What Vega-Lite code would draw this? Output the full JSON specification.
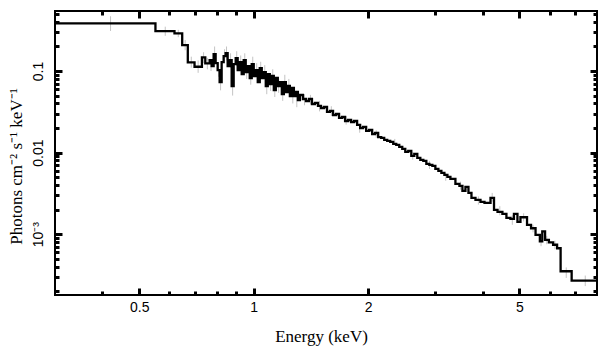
{
  "$schema": "https://vega.github.io/schema/vega-lite/v6.json",
  "width": 542,
  "height": 284,
  "autosize": {"type": "none"},
  "padding": {"left": 55, "top": 11, "right": 12, "bottom": 62},
  "background": "white",
  "config": {
    "view": {"stroke": "#000", "strokeWidth": 2},
    "axis": {"grid": false, "domain": false, "ticks": true, "tickOpacity": 1, "tickColor": "black", "tickWidth": 3, "labelColor": "#000", "labelFont": "Liberation Sans", "labelFontSize": 14, "titleFont": "Liberation Serif", "titleFontWeight": "normal", "titleFontSize": 17, "titleColor": "#000"}
  },
  "datasets": {
    "spec": [
      {"e": 0.3, "f": 0.3838}, {"e": 0.5513, "f": 0.309}, {"e": 0.6187, "f": 0.2894}, {"e": 0.6483, "f": 0.2082},
      {"e": 0.6707, "f": 0.1278}, {"e": 0.6986, "f": 0.1129}, {"e": 0.7306, "f": 0.1472}, {"e": 0.7456, "f": 0.1243},
      {"e": 0.7655, "f": 0.1364}, {"e": 0.7749, "f": 0.1151}, {"e": 0.7843, "f": 0.1615}, {"e": 0.7939, "f": 0.1253},
      {"e": 0.8036, "f": 0.1028}, {"e": 0.8133, "f": 0.0733}, {"e": 0.8233, "f": 0.1289}, {"e": 0.8333, "f": 0.1527},
      {"e": 0.8435, "f": 0.1661}, {"e": 0.8538, "f": 0.1151}, {"e": 0.8642, "f": 0.1364}, {"e": 0.8748, "f": 0.0655},
      {"e": 0.8855, "f": 0.1218}, {"e": 0.8964, "f": 0.1443}, {"e": 0.9073, "f": 0.1028}, {"e": 0.9184, "f": 0.1289},
      {"e": 0.9297, "f": 0.0919}, {"e": 0.941, "f": 0.1364}, {"e": 0.9526, "f": 0.0972}, {"e": 0.9642, "f": 0.1151},
      {"e": 0.976, "f": 0.0821}, {"e": 0.9879, "f": 0.1218}, {"e": 1.0, "f": 0.0869}, {"e": 1.0122, "f": 0.1028},
      {"e": 1.0246, "f": 0.0733}, {"e": 1.0371, "f": 0.1088}, {"e": 1.0498, "f": 0.0821}, {"e": 1.0627, "f": 0.0972},
      {"e": 1.0756, "f": 0.0655}, {"e": 1.0888, "f": 0.0919}, {"e": 1.1021, "f": 0.0693}, {"e": 1.1155, "f": 0.0869},
      {"e": 1.1292, "f": 0.0585}, {"e": 1.143, "f": 0.0821}, {"e": 1.157, "f": 0.0655}, {"e": 1.1711, "f": 0.0733},
      {"e": 1.1855, "f": 0.0523}, {"e": 1.2, "f": 0.0733}, {"e": 1.2147, "f": 0.0553}, {"e": 1.2296, "f": 0.0655},
      {"e": 1.2446, "f": 0.0494}, {"e": 1.2598, "f": 0.0619}, {"e": 1.2753, "f": 0.0494}, {"e": 1.2909, "f": 0.0553},
      {"e": 1.3066, "f": 0.0441}, {"e": 1.3227, "f": 0.0508}, {"e": 1.3471, "f": 0.0454}, {"e": 1.3719, "f": 0.0429},
      {"e": 1.3972, "f": 0.0454}, {"e": 1.4229, "f": 0.0394}, {"e": 1.4491, "f": 0.0406},
      {"e": 1.4757, "f": 0.0373}, {"e": 1.5029, "f": 0.0352}, {"e": 1.5306, "f": 0.0362}, {"e": 1.5588, "f": 0.0315},
      {"e": 1.5875, "f": 0.0324}, {"e": 1.6167, "f": 0.0289}, {"e": 1.6464, "f": 0.0297}, {"e": 1.6767, "f": 0.0266},
      {"e": 1.7076, "f": 0.0273}, {"e": 1.739, "f": 0.0244}, {"e": 1.771, "f": 0.0251}, {"e": 1.8036, "f": 0.0237},
      {"e": 1.8367, "f": 0.0244}, {"e": 1.8705, "f": 0.0218}, {"e": 1.905, "f": 0.02}, {"e": 1.94, "f": 0.0206},
      {"e": 1.9757, "f": 0.0184}, {"e": 2.0121, "f": 0.0189}, {"e": 2.0491, "f": 0.0169}, {"e": 2.0868, "f": 0.0174},
      {"e": 2.1252, "f": 0.0155}, {"e": 2.1643, "f": 0.0151}, {"e": 2.2041, "f": 0.0143}, {"e": 2.2447, "f": 0.0139},
      {"e": 2.286, "f": 0.0135}, {"e": 2.328, "f": 0.01276}, {"e": 2.3709, "f": 0.0124}, {"e": 2.4145, "f": 0.01173},
      {"e": 2.4589, "f": 0.01108}, {"e": 2.5041, "f": 0.01018}, {"e": 2.5502, "f": 0.01047}, {"e": 2.5971, "f": 0.0091},
      {"e": 2.6449, "f": 0.00963}, {"e": 2.6935, "f": 0.0086}, {"e": 2.7431, "f": 0.00813}, {"e": 2.7936, "f": 0.0079},
      {"e": 2.845, "f": 0.00726}, {"e": 2.8973, "f": 0.00706}, {"e": 2.9506, "f": 0.00686}, {"e": 3.0049, "f": 0.0063},
      {"e": 3.0602, "f": 0.00596}, {"e": 3.1165, "f": 0.00563}, {"e": 3.1738, "f": 0.00532}, {"e": 3.2322, "f": 0.00503},
      {"e": 3.2917, "f": 0.00476}, {"e": 3.393, "f": 0.00413}, {"e": 3.4765, "f": 0.0039}, {"e": 3.5404, "f": 0.00339},
      {"e": 3.6056, "f": 0.0038}, {"e": 3.6719, "f": 0.0032}, {"e": 3.7395, "f": 0.00278}, {"e": 3.8313, "f": 0.00263},
      {"e": 3.9496, "f": 0.00249}, {"e": 4.0466, "f": 0.00242}, {"e": 4.1968, "f": 0.00278}, {"e": 4.287, "f": 0.00198},
      {"e": 4.379, "f": 0.00187}, {"e": 4.5103, "f": 0.00177}, {"e": 4.6214, "f": 0.00158}, {"e": 4.735, "f": 0.00154},
      {"e": 4.8369, "f": 0.00177}, {"e": 4.9408, "f": 0.00141}, {"e": 5.0316, "f": 0.00161}, {"e": 5.236, "f": 0.0013},
      {"e": 5.3647, "f": 0.00118}, {"e": 5.5133, "f": 0.00098}, {"e": 5.6592, "f": 0.000816}, {"e": 5.7423, "f": 0.00108},
      {"e": 5.8409, "f": 0.000851}, {"e": 5.9773, "f": 0.000793}, {"e": 6.1316, "f": 0.00074}, {"e": 6.2822, "f": 0.00067},
      {"e": 6.4172, "f": 0.00035}, {"e": 6.8612, "f": 0.000268}, {"e": 8.0, "f": 0.000268}
    ],
    "err": [
      {"e": 0.42, "lo": 0.31, "hi": 0.47}, {"e": 0.585, "lo": 0.27, "hi": 0.35}, {"e": 0.633, "lo": 0.26, "hi": 0.32},
      {"e": 0.66, "lo": 0.18, "hi": 0.24}, {"e": 0.685, "lo": 0.11, "hi": 0.15}, {"e": 0.714, "lo": 0.095, "hi": 0.135},
      {"e": 0.738, "lo": 0.125, "hi": 0.17}, {"e": 0.755, "lo": 0.105, "hi": 0.145}, {"e": 0.772, "lo": 0.1, "hi": 0.14},
      {"e": 0.789, "lo": 0.13, "hi": 0.2}, {"e": 0.808, "lo": 0.085, "hi": 0.125}, {"e": 0.818, "lo": 0.058, "hi": 0.095},
      {"e": 0.838, "lo": 0.125, "hi": 0.185}, {"e": 0.848, "lo": 0.135, "hi": 0.2}, {"e": 0.869, "lo": 0.11, "hi": 0.165},
      {"e": 0.88, "lo": 0.05, "hi": 0.085}, {"e": 0.902, "lo": 0.115, "hi": 0.175}, {"e": 0.924, "lo": 0.105, "hi": 0.155},
      {"e": 0.947, "lo": 0.11, "hi": 0.165}, {"e": 0.958, "lo": 0.08, "hi": 0.118}, {"e": 0.982, "lo": 0.068, "hi": 0.1},
      {"e": 0.994, "lo": 0.1, "hi": 0.15}, {"e": 1.018, "lo": 0.085, "hi": 0.125}, {"e": 1.043, "lo": 0.09, "hi": 0.13},
      {"e": 1.069, "lo": 0.08, "hi": 0.118}, {"e": 1.082, "lo": 0.052, "hi": 0.082}, {"e": 1.108, "lo": 0.057, "hi": 0.085},
      {"e": 1.122, "lo": 0.072, "hi": 0.105}, {"e": 1.136, "lo": 0.048, "hi": 0.072}, {"e": 1.163, "lo": 0.054, "hi": 0.08},
      {"e": 1.192, "lo": 0.043, "hi": 0.065}, {"e": 1.207, "lo": 0.06, "hi": 0.09}, {"e": 1.237, "lo": 0.054, "hi": 0.08},
      {"e": 1.267, "lo": 0.04, "hi": 0.06}, {"e": 1.298, "lo": 0.036, "hi": 0.053}, {"e": 1.36, "lo": 0.038, "hi": 0.052},
      {"e": 1.41, "lo": 0.039, "hi": 0.051}, {"e": 1.49, "lo": 0.032, "hi": 0.043}, {"e": 1.6, "lo": 0.028, "hi": 0.037},
      {"e": 1.75, "lo": 0.022, "hi": 0.028}, {"e": 1.9, "lo": 0.0175, "hi": 0.0225}, {"e": 2.1, "lo": 0.0152, "hi": 0.0188},
      {"e": 2.35, "lo": 0.0123, "hi": 0.0147}, {"e": 2.62, "lo": 0.0082, "hi": 0.0101}, {"e": 2.9, "lo": 0.0063, "hi": 0.0079},
      {"e": 3.2, "lo": 0.0045, "hi": 0.0056}, {"e": 3.5, "lo": 0.0035, "hi": 0.0044}, {"e": 3.9, "lo": 0.0023, "hi": 0.0029},
      {"e": 4.24, "lo": 0.0025, "hi": 0.0032}, {"e": 4.44, "lo": 0.0017, "hi": 0.0022}, {"e": 4.79, "lo": 0.0013, "hi": 0.0017},
      {"e": 5.13, "lo": 0.00143, "hi": 0.0018}, {"e": 5.43, "lo": 0.00105, "hi": 0.0013}, {"e": 5.7, "lo": 0.00071, "hi": 0.00092},
      {"e": 5.9, "lo": 0.00075, "hi": 0.00095}, {"e": 6.2, "lo": 0.00065, "hi": 0.00083}, {"e": 6.64, "lo": 0.00029, "hi": 0.00039},
      {"e": 7.45, "lo": 0.00023, "hi": 0.00031}
    ]
  },
  "data": {"name": "spec"},
  "layer": [
    {
      "data": {"name": "err"},
      "mark": {"type": "rule", "color": "#c4c4c4", "strokeWidth": 1},
      "encoding": {
        "x": {"field": "e", "type": "quantitative", "scale": {"type": "log", "domain": [0.3, 8], "nice": false},
              "axis": {"orient": "bottom", "offset": -4, "values": [0.4, 0.6, 0.7, 0.8, 0.9, 3, 4, 6, 7], "labels": false, "ticks": true, "tickOpacity": 1, "tickSize": 4, "tickColor": "black", "tickWidth": 3, "title": null}},
        "y": {"field": "lo", "type": "quantitative", "scale": {"type": "log", "domain": [0.000179, 0.545], "nice": false},
              "axis": {"orient": "left", "offset": -4, "values": [0.0002, 0.0003, 0.0004, 0.0005, 0.0006, 0.0007, 0.0008, 0.0009, 0.002, 0.003, 0.004, 0.005, 0.006, 0.007, 0.008, 0.009, 0.02, 0.03, 0.04, 0.05, 0.06, 0.07, 0.08, 0.09, 0.2, 0.3, 0.4, 0.5], "labels": false, "ticks": true, "tickOpacity": 1, "tickSize": 4, "tickColor": "black", "tickWidth": 3, "title": null}},
        "y2": {"field": "hi"}
      }
    },
    {
      "mark": {"type": "line", "interpolate": "step-after", "color": "#000", "strokeWidth": 2.3},
      "encoding": {
        "x": {"field": "e", "type": "quantitative", "scale": {"type": "log", "domain": [0.3, 8], "nice": false},
              "axis": {"orient": "bottom", "offset": -7, "values": [0.5, 1, 2, 5], "format": "~g", "ticks": true, "tickOpacity": 1, "tickSize": 7, "tickColor": "black", "tickWidth": 3, "labelPadding": 5, "title": "Energy (keV)", "titlePadding": 14, "titleX": 266}},
        "y": {"field": "f", "type": "quantitative", "scale": {"type": "log", "domain": [0.000179, 0.545], "nice": false},
              "axis": {"orient": "left", "offset": -7, "values": [0.001, 0.01, 0.1], "labelExpr": "datum.value < 0.005 ? '10⁻³' : (datum.value < 0.05 ? '0.01' : '0.1')", "labelAngle": -90, "labelAlign": "center", "labelBaseline": "bottom", "ticks": true, "tickOpacity": 1, "tickSize": 7, "tickColor": "black", "tickWidth": 3, "labelPadding": 10, "title": "Photons cm⁻² s⁻¹ keV⁻¹", "titlePadding": 6, "titleY": 155}}
      }
    },
    {
      "mark": {"type": "line", "strokeOpacity": 0},
      "encoding": {
        "x": {"field": "e", "type": "quantitative", "scale": {"type": "log", "domain": [0.3, 8], "nice": false},
              "axis": {"orient": "top", "offset": -7, "values": [0.5, 1, 2, 5], "labels": false, "ticks": true, "tickOpacity": 1, "tickSize": 7, "tickColor": "black", "tickWidth": 3, "title": null}},
        "y": {"field": "f", "type": "quantitative", "scale": {"type": "log", "domain": [0.000179, 0.545], "nice": false},
              "axis": {"orient": "right", "offset": -7, "values": [0.001, 0.01, 0.1], "labels": false, "ticks": true, "tickOpacity": 1, "tickSize": 7, "tickColor": "black", "tickWidth": 3, "title": null}}
      }
    },
    {
      "mark": {"type": "line", "strokeOpacity": 0},
      "encoding": {
        "x": {"field": "e", "type": "quantitative", "scale": {"type": "log", "domain": [0.3, 8], "nice": false},
              "axis": {"orient": "top", "offset": -4, "values": [0.4, 0.6, 0.7, 0.8, 0.9, 3, 4, 6, 7], "labels": false, "ticks": true, "tickOpacity": 1, "tickSize": 4, "tickColor": "black", "tickWidth": 3, "title": null}},
        "y": {"field": "f", "type": "quantitative", "scale": {"type": "log", "domain": [0.000179, 0.545], "nice": false},
              "axis": {"orient": "right", "offset": -4, "values": [0.0002, 0.0003, 0.0004, 0.0005, 0.0006, 0.0007, 0.0008, 0.0009, 0.002, 0.003, 0.004, 0.005, 0.006, 0.007, 0.008, 0.009, 0.02, 0.03, 0.04, 0.05, 0.06, 0.07, 0.08, 0.09, 0.2, 0.3, 0.4, 0.5], "labels": false, "ticks": true, "tickOpacity": 1, "tickSize": 4, "tickColor": "black", "tickWidth": 3, "title": null}}
      }
    }
  ],
  "resolve": {"axis": {"x": "independent", "y": "independent"}}
}
